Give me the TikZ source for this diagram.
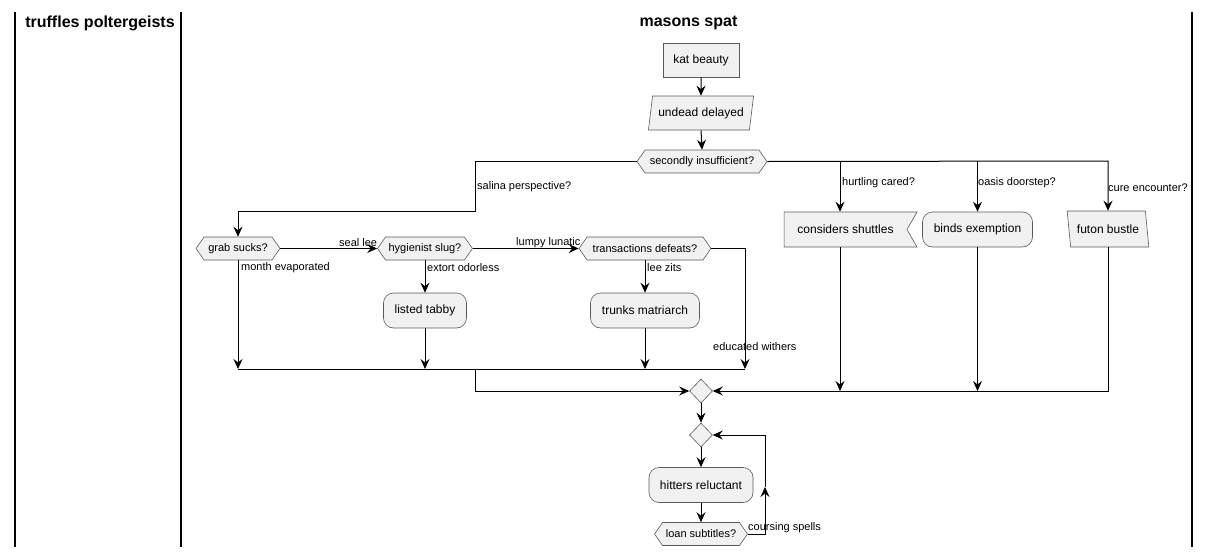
\documentclass[tikz,border=0pt]{standalone}
\usepackage{fontspec}
\setmainfont{Liberation Sans}
\usetikzlibrary{arrows.meta,shapes.geometric,shapes.symbols}
\definecolor{nfill}{HTML}{F1F1F1}
\definecolor{nline}{HTML}{5A5A5A}
\tikzset{
 base/.style={draw=nline, line width=0.6pt, fill=nfill, inner sep=0pt, font=\fontsize{12}{14}\selectfont},
 rectbox/.style={base, rectangle, minimum width=#1, minimum height=34},
 actbox/.style={base, rectangle, rounded corners=10pt, minimum width=#1, minimum height=35},
 hexbox/.style={base, signal, signal to=east and west, signal pointer angle=110, minimum width=#1, minimum height=23, font=\fontsize{11}{13}\selectfont},
 notchbox/.style={base, signal, signal from=east, signal to=nowhere, signal pointer angle=120, minimum width=#1, minimum height=35},
 paraR/.style={base, trapezium, trapezium stretches=true, trapezium left angle=72, trapezium right angle=108, minimum width=#1, minimum height=34},
 paraL/.style={base, trapezium, trapezium stretches=true, trapezium left angle=108, trapezium right angle=72, minimum width=#1, minimum height=36},
 diabox/.style={base, diamond, minimum width=23, minimum height=24},
 lab/.style={anchor=west, inner sep=0pt, font=\fontsize{11}{13}\selectfont},
 title/.style={inner sep=0pt, font=\bfseries\fontsize{16}{19}\selectfont},
 flow/.style={line width=1pt, draw=black, -{Stealth[length=10pt,width=9pt,inset=3.5pt]}},
 plain/.style={line width=1pt, draw=black},
 lane/.style={line width=1.3pt, draw=black}
}
\begin{document}
\begin{tikzpicture}[x=1pt,y=-1pt]
\useasboundingbox (0,0) rectangle (1211,557);
% lanes
\draw[lane] (15,12) -- (15,547);
\draw[lane] (181,12) -- (181,547);
\draw[lane] (1192,12) -- (1192,547);
\node[title] (t1) at (100,23) {truffles poltergeists};
\node[title] (t2) at (688.5,23) {masons spat};
% nodes
\node[rectbox=76] (kat) at (701,60) {kat beauty};
\node[paraR=106] (und) at (701,113) {undead delayed};
\node[hexbox=130] (sec) at (702,161.5) {secondly insufficient?};
\node[hexbox=84] (grab) at (238,248.5) {grab sucks?};
\node[hexbox=95] (hyg) at (425,248.5) {hygienist slug?};
\node[hexbox=132] (trans) at (645,248.5) {transactions defeats?};
\node[notchbox=133] (shut) at (845.5,229.5) {considers shuttles};
\node[actbox=110] (binds) at (977.5,229.5) {binds exemption};
\node[paraL=82] (futon) at (1108,229) {futon bustle};
\node[actbox=83] (listed) at (425,310.5) {listed tabby};
\node[actbox=109] (trunks) at (645,310.5) {trunks matriarch};
\node[diabox] (d1) at (701,391) {};
\node[diabox] (d2) at (701,435) {};
\node[actbox=104] (hit) at (701,485) {hitters reluctant};
\node[hexbox=93] (loan) at (701,534) {loan subtitles?};
% coordinates
\coordinate (c1) at (475,211);
\coordinate (c2) at (1108,161);
\coordinate (s1) at (840,161);
\coordinate (s2) at (977.5,161);
\coordinate (m1) at (238,369);
\coordinate (m2) at (425,369);
\coordinate (m3) at (645,369);
\coordinate (m4) at (745,369);
\coordinate (m5) at (475,369);
\coordinate (r1) at (840,391);
\coordinate (r2) at (977.5,391);
\coordinate (l1) at (765,487);
% connectors
\draw[flow] (kat.south) -- (und.north);
\draw[flow] (und.south) -- (sec.north);
\draw[flow] (sec.west) -| (c1) -| (grab.north);
\draw[flow] (sec.east) -- (c2) -- (futon.north);
\draw[flow] (s1) -- (s1 |- shut.north);
\draw[flow] (s2) -- (binds.north);
\draw[flow] (grab.east) -- (hyg.west);
\draw[flow] (hyg.east) -- (trans.west);
\draw[flow] (grab.south) -- (m1);
\draw[flow] (hyg.south) -- (listed.north);
\draw[flow] (listed.south) -- (m2);
\draw[flow] (trans.south) -- (trunks.north);
\draw[flow] (trunks.south) -- (m3);
\draw[flow] (trans.east) -| (m4);
\draw[plain] (m1) -- (m4);
\draw[flow] (m5) |- (d1.west);
\draw[flow] (shut.south -| r1) -- (r1);
\draw[flow] (binds.south) -- (r2);
\draw[flow] (futon.south) |- (d1.east);
\draw[flow] (d1.south) -- (d2.north);
\draw[flow] (d2.south) -- (hit.north);
\draw[flow] (hit.south) -- (loan.north);
\draw[flow] (loan.east) -| (l1);
\draw[flow] (l1) |- (d2.east);
% labels
\node[lab] (la1) at (477,187) {salina perspective?};
\node[lab] (la2) at (842,183) {hurtling cared?};
\node[lab] (la3) at (978,183) {oasis doorstep?};
\node[lab] (la4) at (1108,188) {cure encounter?};
\node[lab] (la5) at (339,243) {seal lee};
\node[lab] (la6) at (516,243) {lumpy lunatic};
\node[lab] (la7) at (241,268) {month evaporated};
\node[lab] (la8) at (427,268) {extort odorless};
\node[lab] (la9) at (647,268) {lee zits};
\node[lab] (la10) at (713,347) {educated withers};
\node[lab] (la11) at (748,528) {coursing spells};
\end{tikzpicture}
\end{document}
